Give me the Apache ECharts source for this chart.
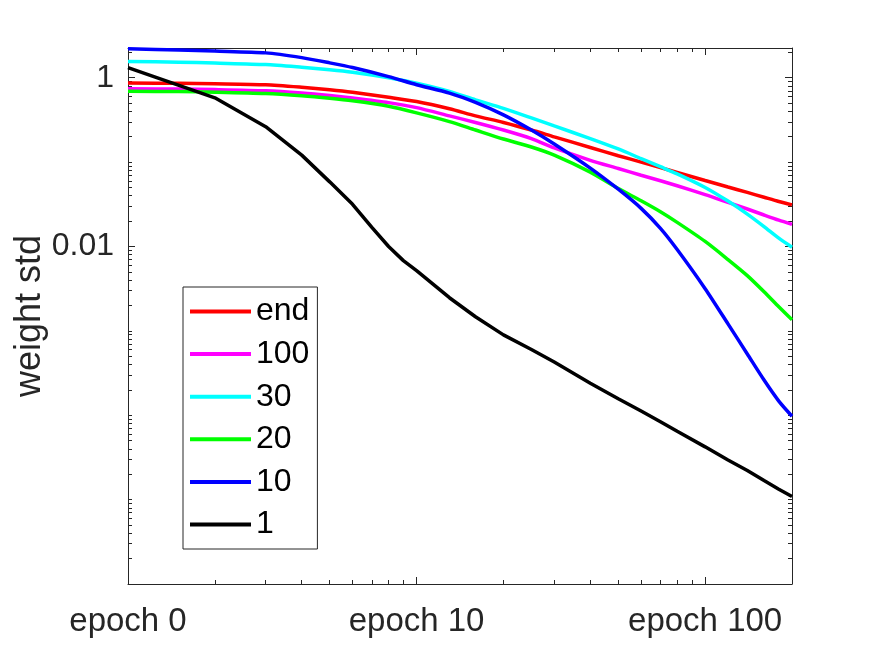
<!DOCTYPE html>
<html><head><meta charset="utf-8">
<script src="https://cdn.jsdelivr.net/npm/echarts@6/dist/echarts.min.js"></script>
<style>html,body{margin:0;padding:0;background:#fff}#c{width:875px;height:656px}</style>
</head><body><div id="c"></div>
<script>
const seriesNames = ['end', '100', '30', '20', '10', '1'];
const seriesColors = ['#ff0000', '#ff00ff', '#00ffff', '#00ff00', '#0000ff', '#000000'];

const epochs = [1, 1.5, 2, 3, 4, 5, 6, 8, 10, 13, 16, 20, 25, 30, 40, 50, 60, 70, 80, 100, 120, 140, 160, 180, 200];
const epochsOne = [1, 2, 3, 4, 5, 6, 7, 8, 9, 10, 13, 16, 20, 25, 30, 40, 50, 60, 70, 80, 100, 120, 140, 160, 180, 200];

const stdEnd = [0.865, 0.86, 0.849, 0.826, 0.771, 0.72, 0.672, 0.586, 0.522, 0.428, 0.353, 0.295, 0.240, 0.199, 0.149, 0.119, 0.1, 0.086, 0.0754, 0.0605, 0.0507, 0.0437, 0.0383, 0.0341, 0.0311];
const stdHundred = [0.74, 0.734, 0.724, 0.70, 0.659, 0.616, 0.575, 0.507, 0.442, 0.353, 0.295, 0.240, 0.19, 0.147, 0.105, 0.0839, 0.0698, 0.0601, 0.0524, 0.0412, 0.0333, 0.0278, 0.0236, 0.0205, 0.0183];
const stdThirty = [1.56, 1.53, 1.49, 1.43, 1.33, 1.245, 1.162, 1.0, 0.86, 0.687, 0.547, 0.434, 0.334, 0.268, 0.19, 0.143, 0.11, 0.0882, 0.0726, 0.0501, 0.0345, 0.0242, 0.0172, 0.01253, 0.0098];
const stdTwenty = [0.691, 0.685, 0.674, 0.649, 0.610, 0.570, 0.532, 0.458, 0.383, 0.302, 0.240, 0.188, 0.151, 0.121, 0.076, 0.0486, 0.0348, 0.0258, 0.0193, 0.01147, 0.007, 0.00452, 0.00291, 0.00193, 0.00135];
const stdTen = [2.21, 2.13, 2.07, 1.97, 1.73, 1.50, 1.32, 1.03, 0.826, 0.657, 0.51, 0.363, 0.24, 0.164, 0.0849, 0.0477, 0.0283, 0.0164, 0.0092, 0.00316, 0.00121, 0.000532, 0.000261, 0.000147, 0.0000973];
const stdOne = [1.315, 0.578, 0.263, 0.121, 0.0583, 0.0316, 0.0168, 0.01, 0.0068, 0.00518, 0.00247, 0.00147, 0.000896, 0.000602, 0.000427, 0.00024, 0.000157, 0.000112, 0.0000837, 0.0000645, 0.0000422, 0.0000295, 0.0000221, 0.0000168, 0.0000133, 0.0000109];

const xMajorTicks = [1, 10, 100];
const xTickLabels = ['epoch 0', 'epoch 10', 'epoch 100'];
const yMajorTicks = [0.01, 1];
const yTickLabels = ['0.01', '1'];
const mantissas = [1, 2, 3, 4, 5, 6, 7, 8, 9];
const xDecades = [1, 10, 100];
const yDecades = [1e-6, 1e-5, 1e-4, 1e-3, 1e-2, 1e-1, 1];
const X_MIN = 1, X_MAX = 200, Y_MIN = 1e-6, Y_MAX = 2.25;

const xMinorTicks = [];
xDecades.forEach(d => mantissas.forEach(m => { const v = m * d; if (m > 1 && v < X_MAX) xMinorTicks.push(v); }));
const yMinorTicks = [];
yDecades.forEach(d => mantissas.forEach(m => { const v = m * d; if (v > Y_MIN && v < Y_MAX && yMajorTicks.indexOf(v) < 0) yMinorTicks.push(v); }));

const FONT = 'Liberation Sans, Arial, Helvetica, sans-serif';
const AX = '#262626';

function pick(ticks, labels, v) {
  for (let i = 0; i < ticks.length; i++) {
    if (Math.abs(Math.log10(v) - Math.log10(ticks[i])) < 1e-6) return labels[i];
  }
  return '';
}

function xAx(pos, major, withLabels) {
  return {
    type: 'log', logBase: 10, min: X_MIN, max: X_MAX, position: pos,
    axisLine: { show: major, onZero: false, lineStyle: { color: AX, width: 1 } },
    axisTick: { show: true, inside: true, length: major ? 7 : 4, lineStyle: { color: AX, width: 1 },
      customValues: major ? xMajorTicks : xMinorTicks },
    axisLabel: { show: withLabels, customValues: xMajorTicks, margin: 21, fontSize: 33, color: AX, fontFamily: FONT,
      formatter: v => pick(xMajorTicks, xTickLabels, v) },
    splitLine: { show: false }, minorTick: { show: false }
  };
}
function yAx(pos, major, withLabels, name) {
  const a = {
    type: 'log', logBase: 10, min: Y_MIN, max: Y_MAX, position: pos,
    axisLine: { show: major, onZero: false, lineStyle: { color: AX, width: 1 } },
    axisTick: { show: true, inside: true, length: major ? 7 : 4, lineStyle: { color: AX, width: 1 },
      customValues: major ? yMajorTicks : yMinorTicks },
    axisLabel: { show: withLabels, customValues: yMajorTicks, margin: 14, fontSize: 32, color: AX, fontFamily: FONT,
      formatter: v => pick(yMajorTicks, yTickLabels, v) },
    splitLine: { show: false }, minorTick: { show: false }
  };
  if (name) {
    a.name = name; a.nameLocation = 'middle'; a.nameRotate = 90; a.nameGap = 80;
    a.nameMoveOverlap = false;
    a.nameTextStyle = { fontSize: 36, color: AX, fontFamily: FONT };
  }
  return a;
}

const datasets = [
  [epochs, stdEnd], [epochs, stdHundred], [epochs, stdThirty],
  [epochs, stdTwenty], [epochs, stdTen], [epochsOne, stdOne]
];

const series = datasets.map((d, i) => ({
  name: seriesNames[i], type: 'line', xAxisIndex: 0, yAxisIndex: 0,
  data: d[0].map((x, j) => [x, d[1][j]]),
  showSymbol: false, symbol: 'none',
  smooth: i === 5 ? false : 0.25,
  lineStyle: { color: seriesColors[i], width: 3.5 },
  itemStyle: { color: seriesColors[i] },
  emphasis: { disabled: true }, animation: false, z: 2 + i
}));

const chart = echarts.init(document.getElementById('c'), null, { renderer: 'canvas' });
chart.setOption({
  animation: false,
  backgroundColor: '#ffffff',
  grid: { left: 128, right: 83, top: 48, bottom: 72, containLabel: false, outerBoundsMode: 'none' },
  xAxis: [xAx('bottom', true, true), xAx('bottom', false, false), xAx('top', true, false), xAx('top', false, false)],
  yAxis: [yAx('left', true, true, 'weight std'), yAx('left', false, false), yAx('right', true, false), yAx('right', false, false)],
  legend: {
    show: true, orient: 'vertical', left: 183, top: 287,
    data: seriesNames, icon: 'rect', itemWidth: 61, itemHeight: 4, itemGap: 6.6,
    padding: [6.5, 8, 6.5, 7],
    backgroundColor: '#ffffff', borderColor: AX, borderWidth: 1, borderRadius: 0,
    textStyle: { fontSize: 32, lineHeight: 36, color: '#000000', fontFamily: FONT },
    selectedMode: false
  },
  series: series
});
</script></body></html>
